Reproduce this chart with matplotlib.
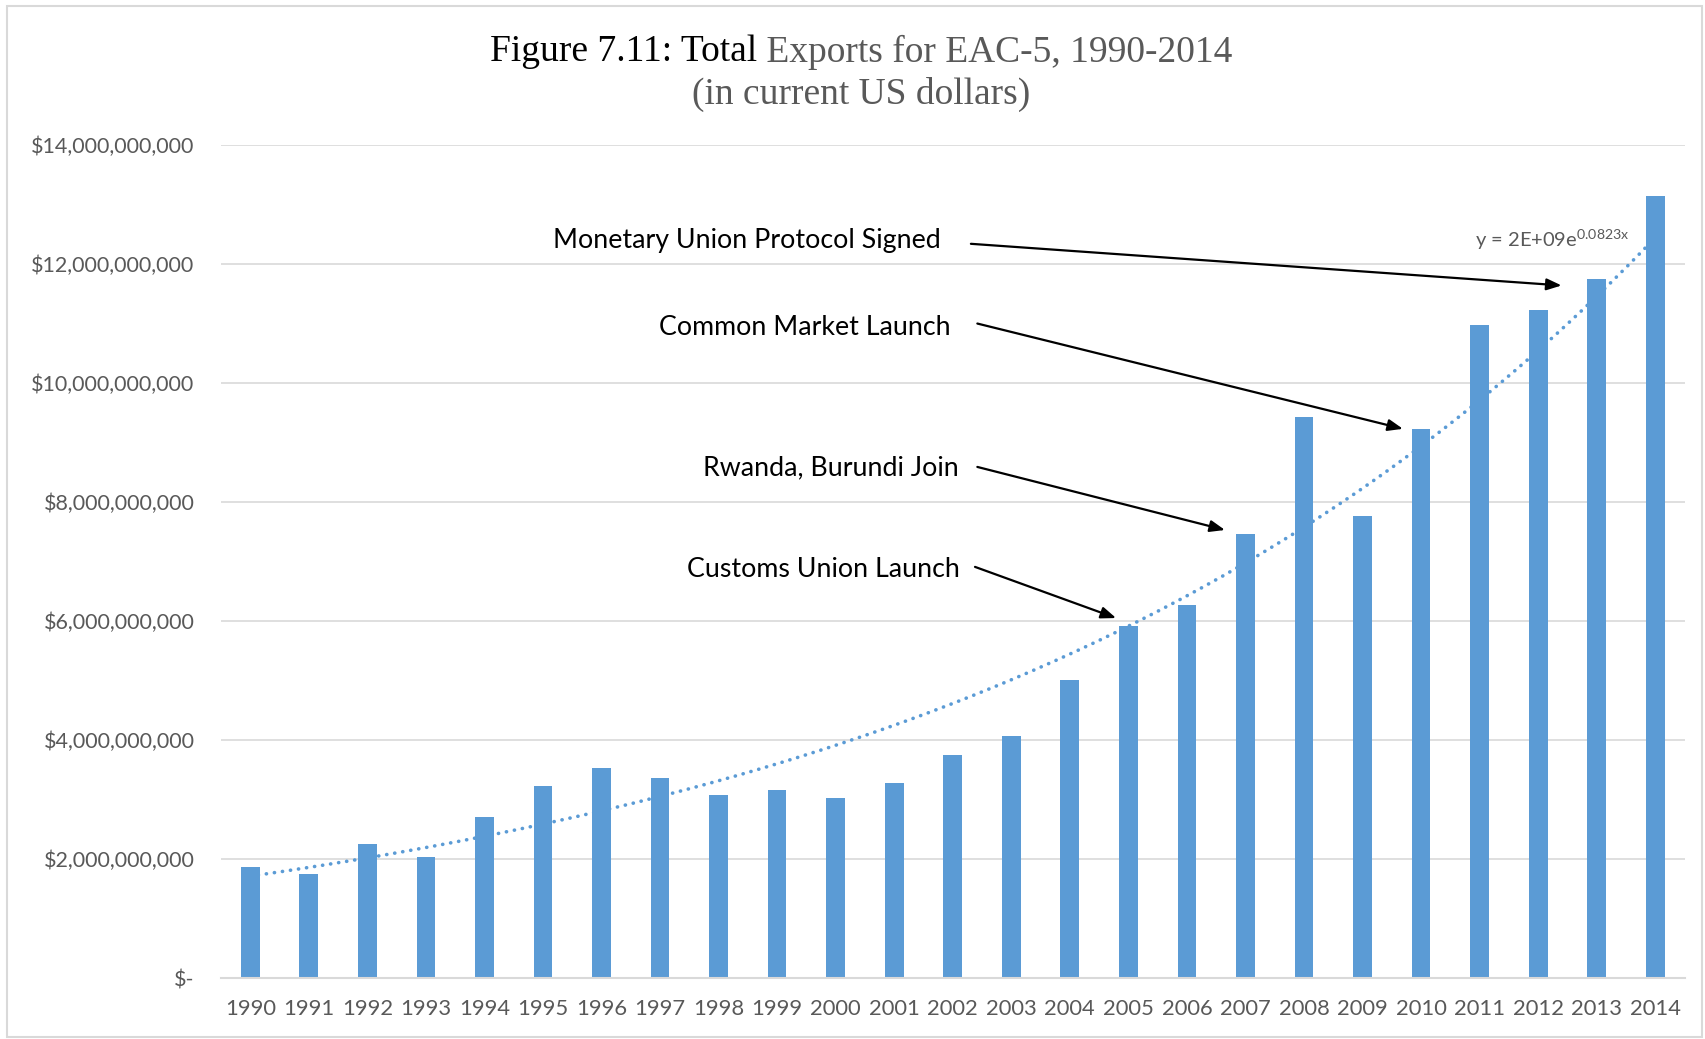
import matplotlib
matplotlib.use('Agg')
import matplotlib.pyplot as plt
import numpy as np

years = ['1990', '1991', '1992', '1993', '1994', '1995', '1996', '1997', '1998', '1999',
         '2000', '2001', '2002', '2003', '2004', '2005', '2006', '2007', '2008', '2009',
         '2010', '2011', '2012', '2013', '2014']
exports = [1.86e9, 1.75e9, 2.25e9, 2.03e9, 2.71e9, 3.22e9, 3.53e9, 3.36e9, 3.07e9, 3.16e9,
           3.03e9, 3.27e9, 3.75e9, 4.06e9, 5.01e9, 5.92e9, 6.27e9, 7.46e9, 9.43e9, 7.77e9,
           9.23e9, 10.97e9, 11.22e9, 11.75e9, 13.14e9]
yticks = [0, 2e9, 4e9, 6e9, 8e9, 10e9, 12e9, 14e9]

events = ['Monetary Union Protocol Signed', 'Common Market Launch',
          'Rwanda, Burundi Join', 'Customs Union Launch']
trend_label = r'y = 2E+09e$^{\mathregular{0.0823x}}$'

plt.rcParams['font.family'] = ['Lato', 'DejaVu Sans']
blue = '#5B9BD5'
gray = '#595959'

fig = plt.figure(figsize=(17.05, 10.39), dpi=100)
ax = fig.add_axes([0.1296, 0.0587, 0.8584, 0.8017])

x = np.arange(len(years))
ax.bar(x, exports, width=0.32, color=blue, zorder=2)

# exponential trendline (least squares on log values, like excel)
k, c = np.polyfit(x + 1, np.log(exports), 1)
xt = np.linspace(0, len(years) - 1, 200)
ax.plot(xt, np.exp(c) * np.exp(k * (xt + 1)), color=blue, lw=2.6,
        linestyle=(0, (0.05, 2.2)), dash_capstyle='round', zorder=3)
ax.text(20.92, 12.41e9, trend_label, fontsize=14.5, color=gray, va='center', ha='left')

ax.set_xlim(-0.5, 24.5)
ax.set_ylim(0, 14e9)
ax.set_xticks(x)
ax.set_xticklabels(years)
ax.set_yticks(yticks)
ax.set_yticklabels(['$-' if v == 0 else '${:,.0f}'.format(v) for v in yticks])
ax.tick_params(axis='both', length=0, labelcolor=gray)
ax.tick_params(axis='y', pad=19, labelsize=15.5)
ax.tick_params(axis='x', pad=15, labelsize=15.8)
ax.grid(axis='y', color='#D9D9D9', lw=1.2, zorder=0)
for s in ['top', 'right', 'left']:
    ax.spines[s].set_visible(False)
ax.spines['bottom'].set_color('#D9D9D9')
ax.spines['bottom'].set_linewidth(1.5)

# annotations: text position, arrow start, arrow end
text_pos = [(11.79, 12.39e9), (11.97, 10.93e9), (12.10, 8.57e9), (12.12, 6.87e9)]
arrow_from = [(12.31, 12.34e9), (12.42, 11.00e9), (12.42, 8.59e9), (12.38, 6.91e9)]
arrow_to = [(22.40, 11.64e9), (19.69, 9.23e9), (16.65, 7.53e9), (14.79, 6.05e9)]
for lab, tp, a0, a1 in zip(events, text_pos, arrow_from, arrow_to):
    ax.text(tp[0], tp[1], lab, fontsize=19.3, ha='right', va='center', color='black')
    ax.annotate('', xy=a1, xytext=a0,
                arrowprops=dict(arrowstyle='-|>,head_length=0.9,head_width=0.35',
                                color='black', lw=1.6, shrinkA=0, shrinkB=0))

# two-colour title, centred
tfont = dict(family='Liberation Serif', fontsize=27)
t1 = fig.text(0, 0.950, 'Figure 7.11: Total', color='black', va='center', ha='left', **tfont)
t2 = fig.text(0, 0.950, ' Exports for EAC-5, 1990-2014', color=gray, va='center', ha='left', **tfont)
r = fig.canvas.get_renderer()
w1 = t1.get_window_extent(r).width / fig.bbox.width
w2 = t2.get_window_extent(r).width / fig.bbox.width
x0 = 0.505 - (w1 + w2) / 2
t1.set_x(x0)
t2.set_x(x0 + w1)
fig.text(0.505, 0.909, '(in current US dollars)', color=gray, va='center', ha='center', **tfont)

fig.patches.append(plt.Rectangle((0.004, 0.002), 0.994, 0.992, transform=fig.transFigure,
                                 fill=False, edgecolor='#D9D9D9', lw=1.5))

plt.savefig('out.png', dpi=100)
